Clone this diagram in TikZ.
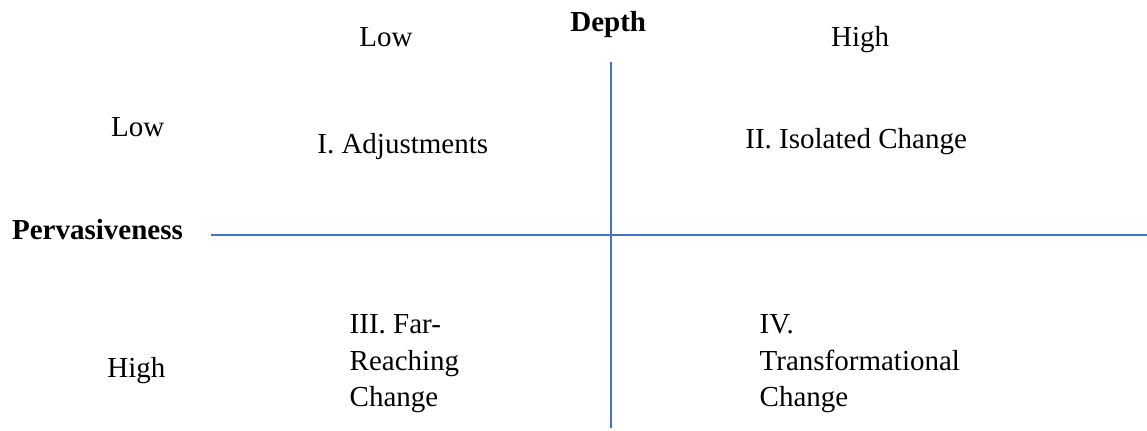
\documentclass[tikz,border=0pt]{standalone}
\usepackage{fontspec}
\setmainfont{Liberation Serif}
\definecolor{axisblue}{HTML}{4472C4}
\begin{document}
\begin{tikzpicture}[x=0.5pt,y=-0.5pt,
  lbl/.style={inner sep=0pt,font=\fontsize{14.5}{18.35}\selectfont},
  head/.style={inner sep=0pt,font=\fontsize{14.5}{18.35}\selectfont\bfseries},
  multi/.style={inner sep=0pt,align=left,anchor=north west,font=\fontsize{14.5}{18.35}\selectfont},
  axis/.style={draw=axisblue,line width=0.6pt}]
\useasboundingbox (0,0) rectangle (1147,430);
% axes
\coordinate (vtop) at (611,62);
\coordinate (vbot) at (611,428);
\coordinate (hleft) at (211,235);
\coordinate (hright) at (1147,235);
\draw[axis] (vtop) -- (vbot);
\draw[axis] (hleft) -- (hright);
% headings
\node[head,anchor=base west] (depth) at (570,31.7) {Depth};
\node[head,anchor=base west] (perv) at (11.7,239.3) {Pervasiveness};
% column labels
\node[lbl,anchor=base west] (clow) at (359,46) {Low};
\node[lbl,anchor=base west] (chigh) at (830.7,46) {High};
% row labels
\node[lbl,anchor=base west] (rlow) at (110.7,136.7) {Low};
\node[lbl,anchor=base west] (rhigh) at (107,377) {High};
% quadrants
\node[lbl,anchor=base west] (q1) at (317,153.3) {I. Adjustments};
\node[lbl,anchor=base west] (q2) at (745,148.3) {II. Isolated Change};
\node[multi] (q3) at (349.3,314) {III. Far-\\Reaching\\Change};
\node[multi] (q4) at (759.3,314) {IV.\\Transformational\\Change};
\end{tikzpicture}
\end{document}
